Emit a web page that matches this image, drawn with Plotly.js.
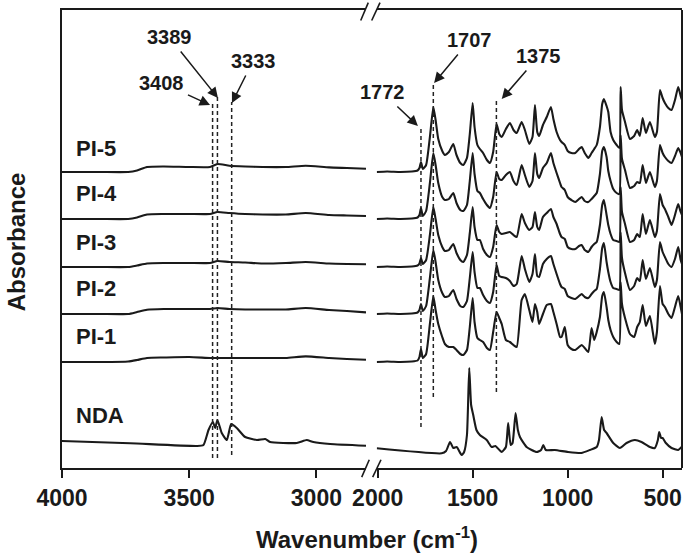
<!DOCTYPE html>
<html>
<head>
<meta charset="utf-8">
<script src="https://cdn.plot.ly/plotly-3.0.1.min.js"></script>
<style>
  html, body { margin: 0; padding: 0; background: #fff; }
  #grafica { width: 685px; height: 557px; }
</style>
</head>
<body>
<div id="grafica"></div>
<script>
// wavenumbers (cm-1), high range segment 4000-2805
var wnHigh = [4000, 3850, 3740, 3705, 3666, 3600, 3500, 3418, 3389, 3342, 3280, 3212, 3120, 3042, 2950, 2880, 2805];
// wavenumbers, fingerprint segment 2005-398
var wnLow = [2005, 1950, 1880, 1820, 1790, 1780, 1772, 1762, 1745, 1725,
  1707, 1695, 1681, 1660, 1646, 1625, 1602, 1585, 1565, 1549,
  1530, 1515, 1500, 1490, 1475, 1462, 1445, 1425, 1409, 1392,
  1374, 1360, 1347, 1325, 1304, 1285, 1268, 1242, 1225, 1202,
  1185, 1172, 1160, 1150, 1130, 1110, 1088, 1075, 1058, 1040,
  1032, 1015, 1000, 980, 960, 940, 926, 910, 891, 874,
  860, 847, 830, 818, 809, 795, 786, 774, 760, 742,
  728, 721, 714, 698, 672, 650, 634, 620, 605, 588,
  567, 541, 530, 514, 500, 488, 470, 453, 435, 418,
  405, 398];

// absorbance (a.u.) above each trace's own baseline
var pi5High = [0, 0, 0, 1.5, 5, 5.5, 5, 5, 8, 6.3, 5.5, 5, 5, 6.3, 4.6, 4, 3.3];
var pi4High = [0, 0, 0, 1.5, 4.5, 5, 5, 5, 7, 6, 5, 4.5, 4.5, 6, 4, 3.5, 3];
var pi3High = [0, 0, 0, 1.5, 3.5, 4, 4, 4, 6, 5, 4.5, 3.5, 4, 5, 3.5, 3, 2.7];
var pi2High = [0, 0, 0, 2, 4.3, 5, 5, 5, 6, 5, 4.5, 4.5, 4.5, 6, 4, 3, 1.6];
var pi1High = [0, 0, 0.5, 2, 4, 4.5, 5, 4, 4, 4, 4, 4, 4, 5.6, 4, 3, 2.3];

var pi5Low = [0, 0.5, 0, 0.5, 1.5, 4, 10, 3, 7, 35,
  65, 52, 33, 21, 17, 20, 28, 17, 9, 7,
  14, 38, 69, 45, 27, 23, 19, 12, 9, 20,
  48, 38, 35, 43, 49, 42, 39, 50, 42, 28,
  35, 67, 40, 36, 47, 55, 65, 53, 40, 32,
  30, 27, 21, 19, 19, 23, 25, 19, 14, 19,
  23, 27, 45, 68, 73, 66, 60, 40, 32, 27,
  24, 85, 62, 50, 33, 36, 42, 36, 54, 39,
  50, 35, 40, 82, 74, 69, 64, 62, 72, 85,
  76, 72];
var pi4Low = [0, 0.5, 0, 0.5, 1.5, 4, 11, 3, 8, 36,
  66, 54, 36, 22, 19, 20, 26, 16, 9, 8,
  14, 38, 66, 45, 28, 26, 20, 14, 11, 22,
  47, 40, 39, 44, 47, 38, 34, 54, 44, 32,
  38, 66, 45, 41, 51, 56, 66, 56, 46, 36,
  32, 29, 22, 19, 17, 20, 22, 18, 17, 20,
  23, 26, 45, 68, 72, 62, 48, 38, 30, 26,
  25, 84, 60, 49, 31, 33, 37, 36, 54, 36,
  47, 32, 38, 74, 66, 62, 58, 56, 63, 71,
  66, 62];
var pi3Low = [0, 0.5, 0, 0.5, 1.5, 3.5, 9, 3, 7, 32,
  60, 48, 32, 20, 16, 17, 23, 14, 7, 5,
  12, 34, 60, 40, 27, 27, 18, 12, 10, 20,
  42, 35, 33, 34, 35, 32, 30, 53, 44, 37,
  40, 55, 40, 37, 50, 54, 58, 50, 43, 33,
  30, 28, 20, 18, 18, 21, 22, 17, 15, 20,
  23, 25, 42, 62, 67, 52, 42, 33, 27, 26,
  25, 80, 55, 43, 25, 27, 33, 30, 53, 33,
  47, 30, 36, 73, 62, 58, 50, 42, 52, 63,
  55, 52];
var pi2Low = [0, 0.5, 0, 0.5, 1.5, 4, 10, 3, 8, 36,
  64, 52, 34, 21, 17, 18, 24, 15, 8, 7,
  13, 36, 62, 42, 26, 26, 19, 13, 11, 22,
  49, 38, 37, 36, 33, 28, 30, 58, 45, 32,
  40, 60, 38, 37, 50, 55, 58, 50, 40, 30,
  27, 25, 18, 16, 15, 18, 20, 17, 16, 20,
  23, 25, 45, 66, 71, 52, 42, 32, 26, 25,
  24, 82, 56, 41, 24, 28, 36, 33, 54, 35,
  46, 27, 34, 72, 62, 57, 50, 47, 55, 67,
  54, 50];
var pi1Low = [0, 0.5, 0, 0.5, 1.5, 5, 13, 4, 8, 38,
  66, 52, 38, 25, 18, 15, 15, 12, 8, 7,
  12, 35, 64, 40, 24, 22, 20, 14, 12, 30,
  50, 44, 38, 22, 20, 17, 15, 62, 68, 52,
  40, 58, 50, 38, 48, 57, 58, 50, 38, 25,
  25, 35, 17, 13, 12, 15, 17, 14, 10, 34,
  22, 30, 45, 66, 70, 55, 42, 32, 25, 20,
  18, 80, 58, 44, 28, 25, 35, 40, 57, 36,
  46, 18, 30, 76, 58, 55, 48, 44, 55, 66,
  55, 48];

// NDA has its own sampling
var ndaHighWn = [4000, 3732, 3470, 3444, 3424, 3407, 3398, 3389, 3372, 3352, 3335, 3313, 3280, 3234, 3201, 3182, 3077, 3038, 3012, 2946, 2805];
var ndaHigh = [14, 11.7, 9, 10, 25, 33, 27, 35, 22, 15, 31, 27, 18, 15, 16, 13, 12, 15, 13, 11, 9.3];
var ndaLowWn = [2005, 1663, 1640, 1619, 1602, 1584, 1558, 1545, 1530, 1518,
  1508, 1497, 1480, 1462, 1426, 1400, 1380, 1347, 1325, 1313,
  1300, 1290, 1274, 1262, 1251, 1216, 1163, 1140, 1128, 1115,
  1068, 998, 928, 883, 847, 835, 821, 808, 795, 760,
  725, 690, 646, 611, 567, 541, 525, 518, 508, 500,
  483, 453, 418, 400];
var ndaLow = [6.7, 1.7, 4, 13, 7, 8, 0, 3, 20, 87,
  50, 40, 25, 20, 15, 8, 9, 3, 8, 32,
  10, 12, 42, 25, 18, 8, 3, 5, 10, 5,
  5, 3, 2, 5, 8, 15, 38, 25, 22, 12,
  7, 12, 15, 13, 8, 7, 15, 23, 17, 17,
  12, 7, 5, 8];

var names = ['PI-5', 'PI-4', 'PI-3', 'PI-2', 'PI-1', 'NDA'];
var offsets = [296, 249, 201, 154, 106, 13];

// marked bands
var bandsHigh = [3408, 3389, 3333];
var bandsLow = [1772, 1707, 1375];

var FONT = 'Arial, "Liberation Sans", sans-serif';
var INK = '#1a1a1a';

function shift(arr, off) {
  return arr.map(function (v) { return v + off; });
}

function spectrum(i, xh, yh, xl, yl) {
  var line = {color: INK, width: 2.1, shape: 'spline', smoothing: 0.5};
  return [
    {x: xh, y: shift(yh, offsets[i]), xaxis: 'x', yaxis: 'y', type: 'scatter', mode: 'lines', name: names[i], line: line, hoverinfo: 'skip'},
    {x: xl, y: shift(yl, offsets[i]), xaxis: 'x2', yaxis: 'y', type: 'scatter', mode: 'lines', name: names[i], line: line, hoverinfo: 'skip'}
  ];
}

var data = [].concat(
  spectrum(0, wnHigh, pi5High, wnLow, pi5Low),
  spectrum(1, wnHigh, pi4High, wnLow, pi4Low),
  spectrum(2, wnHigh, pi3High, wnLow, pi3Low),
  spectrum(3, wnHigh, pi2High, wnLow, pi2Low),
  spectrum(4, wnHigh, pi1High, wnLow, pi1Low),
  spectrum(5, ndaHighWn, ndaHigh, ndaLowWn, ndaLow)
);

var axisX = {
  ticks: 'outside', ticklen: 8, tickwidth: 2, tickcolor: INK,
  showline: true, mirror: true, linewidth: 2, linecolor: INK,
  showgrid: false, zeroline: false,
  tickfont: {family: FONT, size: 23, color: INK, weight: 'bold'}
};

var layout = {
  width: 685, height: 557,
  margin: {l: 62, r: 3, t: 10, b: 89},
  paper_bgcolor: '#fff', plot_bgcolor: '#fff',
  showlegend: false,
  xaxis: Object.assign({}, axisX, {domain: [0, 0.4903], range: [4000, 2805], tickvals: [4000, 3500, 3000]}),
  xaxis2: Object.assign({}, axisX, {domain: [0.5076, 1], range: [2005, 398], anchor: 'y', tickvals: [2000, 1500, 1000, 500]}),
  yaxis: {range: [0, 458], showticklabels: false, ticks: '', showline: true, linewidth: 2, linecolor: INK, showgrid: false, zeroline: false},
  shapes: [],
  annotations: []
};

// right frame + axis break marks
layout.shapes.push({type: 'line', xref: 'paper', yref: 'paper', x0: 1, x1: 1, y0: 0, y1: 1, line: {color: INK, width: 2}});
[[0.4818, 0.494], [0.4995, 0.5129]].forEach(function (s) {
  layout.shapes.push({type: 'line', xref: 'paper', yref: 'paper', x0: s[0], x1: s[1], y0: 0.977, y1: 1.016, line: {color: INK, width: 1.6}});
  layout.shapes.push({type: 'line', xref: 'paper', yref: 'paper', x0: s[0] + 0.0016, x1: s[1] + 0.0016, y0: -0.02, y1: 0.018, line: {color: INK, width: 1.6}});
});

// dashed marker lines
var dashTops = [365, 371, 366, 341, 385, 368];
var dashBottoms = [10, 10, 13, 41, 71, 76];
bandsHigh.concat(bandsLow).forEach(function (b, i) {
  layout.shapes.push({type: 'line', xref: i < 3 ? 'x' : 'x2', yref: 'y', x0: b, x1: b, y0: dashBottoms[i], y1: dashTops[i],
    line: {color: '#222', width: 1.5, dash: '4px,3px'}});
});

// band labels, each with an arrow to the top of its dashed line
var bandLabels = [
  {t: '3408', ax: 'x', tx: 3607, ty: 385, x1: 3418, y1: 363},
  {t: '3389', ax: 'x', tx: 3579, ty: 431, x1: 3387, y1: 370},
  {t: '3333', ax: 'x', tx: 3249, ty: 407, x1: 3332, y1: 365},
  {t: '1772', ax: 'x2', tx: 1977, ty: 376, x1: 1788, y1: 342},
  {t: '1707', ax: 'x2', tx: 1514, ty: 428, x1: 1703, y1: 385},
  {t: '1375', ax: 'x2', tx: 1151, ty: 412, x1: 1347, y1: 369}
];
bandLabels.forEach(function (b) {
  layout.annotations.push({xref: b.ax, yref: 'y', axref: b.ax, ayref: 'y', x: b.x1, y: b.y1, ax: b.tx, ay: b.ty,
    text: b.t, showarrow: true, arrowhead: 2, arrowsize: 1.4, arrowwidth: 1.5, arrowcolor: INK, standoff: 0, borderpad: 3,
    font: {family: FONT, size: 20, color: INK, weight: 'bold'}});
});

// sample names
var nameLift = [24, 26, 25, 26, 26, 40];
names.forEach(function (n, i) {
  layout.annotations.push({xref: 'x', yref: 'y', x: 3953, y: offsets[i] + nameLift[i], xanchor: 'left', text: n, showarrow: false,
    font: {family: FONT, size: 22, color: INK, weight: 'bold'}});
});

// axis titles
layout.annotations.push({xref: 'paper', yref: 'paper', x: 0.492, y: -0.153, xanchor: 'center', yanchor: 'middle', showarrow: false,
  text: 'Wavenumber (cm<sup>-1</sup>)', font: {family: FONT, size: 24, color: INK, weight: 'bold'}});
layout.annotations.push({xref: 'paper', yref: 'paper', x: -0.074, y: 0.493, xanchor: 'center', yanchor: 'middle', showarrow: false,
  textangle: -90, text: 'Absorbance', font: {family: FONT, size: 24, color: INK, weight: 'bold'}});

Plotly.newPlot('grafica', data, layout, {displayModeBar: false, staticPlot: true});
</script>
</body>
</html>
